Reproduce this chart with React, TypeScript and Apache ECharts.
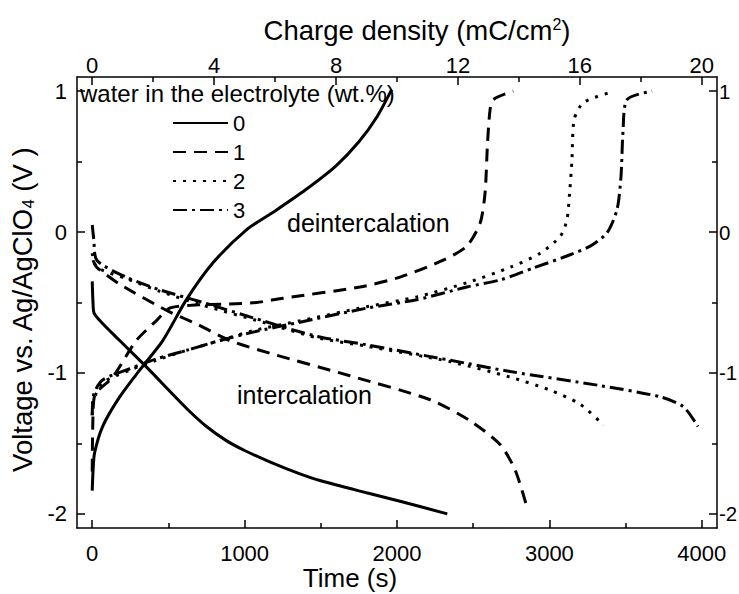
import React, { useEffect, useRef } from "react";
import * as echarts from "echarts";

// ---- data (time s, voltage V) ----
const c0Intercalation: number[][] = [
  [0, -0.35], [5, -0.5], [12, -0.575], [60, -0.64], [180, -0.77], [355, -0.957], [618, -1.25],
  [750, -1.38], [880, -1.48], [1000, -1.55], [1165, -1.63], [1350, -1.71], [1500, -1.765],
  [1800, -1.85], [2020, -1.91], [2330, -2.0],
];
const c0Deintercalation: number[][] = [
  [0, -1.835], [5, -1.7], [15, -1.57], [68, -1.38], [180, -1.17], [311, -0.98], [463, -0.77],
  [618, -0.48], [791, -0.22], [1012, 0.016], [1200, 0.15], [1400, 0.3], [1600, 0.47],
  [1750, 0.64], [1870, 0.82], [1965, 1.01],
];
const c1Intercalation: number[][] = [
  [5, -0.2], [30, -0.25], [180, -0.37], [486, -0.555], [700, -0.66], [902, -0.77], [1165, -0.86],
  [1691, -1.02], [2218, -1.19], [2481, -1.34], [2678, -1.51], [2776, -1.69], [2855, -1.96],
];
const c1Deintercalation: number[][] = [
  [0, -1.7], [5, -1.3], [20, -1.15], [134, -1.03], [289, -0.77], [420, -0.63], [508, -0.54],
  [650, -0.52], [900, -0.51], [1078, -0.5], [1251, -0.47], [1757, -0.39], [2020, -0.32],
  [2303, -0.2], [2458, -0.1], [2546, 0.065], [2578, 0.28], [2594, 0.63], [2611, 0.87],
  [2632, 0.94], [2763, 1.0],
];
const c2Intercalation: number[][] = [
  [0, -0.15], [30, -0.25], [223, -0.33], [442, -0.42], [727, -0.52], [1120, -0.64], [1474, -0.75],
  [1800, -0.81], [2350, -0.92], [2744, -1.03], [3000, -1.12], [3200, -1.22], [3355, -1.37],
];
const c2Deintercalation: number[][] = [
  [0, -1.3], [10, -1.19], [68, -1.07], [246, -0.98], [420, -0.91], [618, -0.84], [837, -0.77],
  [1055, -0.7], [1363, -0.63], [1801, -0.53], [2130, -0.46], [2458, -0.36], [2743, -0.25],
  [2940, -0.15], [3072, -0.03], [3115, 0.087], [3133, 0.28], [3148, 0.51], [3163, 0.8],
  [3225, 0.92], [3400, 0.99],
];
const c3Intercalation: number[][] = [
  [0, 0.05], [10, -0.05], [30, -0.2], [223, -0.32], [442, -0.41], [727, -0.5], [1120, -0.63],
  [1474, -0.74], [1800, -0.8], [2350, -0.91], [2744, -0.99], [3335, -1.09], [3730, -1.17],
  [3880, -1.24], [3975, -1.38],
];
const c3Deintercalation: number[][] = [
  [0, -1.3], [10, -1.15], [68, -1.05], [246, -0.97], [420, -0.9], [618, -0.84], [837, -0.77],
  [1055, -0.71], [1363, -0.64], [1801, -0.54], [2130, -0.48], [2458, -0.39], [2677, -0.34],
  [2895, -0.255], [3115, -0.17], [3268, -0.1], [3378, -0.006], [3444, 0.16], [3470, 0.395],
  [3483, 0.71], [3510, 0.94], [3674, 1.0],
];

const legendNames = ["0", "1", "2", "3"];
const timeTicks = [0, 1000, 2000, 3000, 4000];
const timeMinorTicks = [500, 1500, 2500, 3500];
const chargeTicks = [0, 4, 8, 12, 16, 20];
const chargeMinorTicks = [2, 6, 10, 14, 18];
const voltTicks = [-2, -1, 0, 1];
const voltMinorTicks = [-1.5, -0.5, 0.5];

const FONT = "Liberation Sans, Arial, sans-serif";

export default function App() {
  const ref = useRef<HTMLDivElement>(null);
  useEffect(() => {
    if (!ref.current) return;
    const chart = echarts.init(ref.current, undefined, { renderer: "svg" });
    const axisLineStyle = { color: "#000", width: 1.5 };
    const tickStyle = { color: "#000", width: 1.5 };
    const labelBase = {
      color: "#000",
      fontSize: 22,
      fontFamily: FONT,
      formatter: (v: number) => String(v),
    };

    const mainAxis = (opts: any) => ({
      type: "value",
      splitLine: { show: false },
      axisLine: { show: true, onZero: false, lineStyle: axisLineStyle },
      ...opts,
    });
    const minorAxis = (opts: any, ticks: number[]) => ({
      type: "value",
      splitLine: { show: false },
      axisLine: { show: false, onZero: false },
      axisLabel: { show: false },
      axisTick: { show: true, inside: true, length: 5, customValues: ticks, lineStyle: tickStyle },
      ...opts,
    });

    const styles: any[] = [
      { type: "solid" },
      { type: [13, 8] },
      { type: [3, 7] },
      { type: [14, 5, 3, 5] },
    ];
    const branches = [
      [c0Intercalation, c0Deintercalation],
      [c1Intercalation, c1Deintercalation],
      [c2Intercalation, c2Deintercalation],
      [c3Intercalation, c3Deintercalation],
    ];
    const series: any[] = [];
    branches.forEach((pair, i) => {
      pair.forEach((d) => {
        series.push({
          type: "line",
          name: legendNames[i],
          data: d,
          xAxisIndex: 0,
          yAxisIndex: 0,
          showSymbol: false,
          symbol: "none",
          smooth: 0.25,
          lineStyle: { color: "#000", width: 3, cap: "butt", ...styles[i] },
          itemStyle: { color: "#000", opacity: 0 },
        });
      });
    });

    chart.setOption({
      animation: false,
      backgroundColor: "#fff",
      grid: {
        left: 77,
        right: 22,
        top: 77,
        bottom: 66,
        containLabel: false,
        outerBoundsMode: "none",
      },
      legend: {
        data: legendNames,
        orient: "vertical",
        left: 172,
        top: 112,
        padding: 0,
        itemWidth: 55,
        itemHeight: 14,
        itemGap: 7,
        itemStyle: { opacity: 0 },
        textStyle: { color: "#000", fontSize: 22, fontFamily: FONT },
        selectedMode: false,
      },
      xAxis: [
        mainAxis({
          position: "bottom",
          min: -100,
          max: 4100,
          axisTick: { show: true, inside: true, length: 8, customValues: timeTicks, lineStyle: tickStyle },
          axisLabel: { ...labelBase, margin: 14, customValues: timeTicks },
          name: "Time (s)",
          nameLocation: "middle",
          nameMoveOverlap: false,
          nameGap: 36,
          nameTextStyle: {
            color: "#000",
            fontSize: 26,
            lineHeight: 27,
            fontFamily: FONT,
            padding: [0, 94, 0, 0],
          },
        }),
        minorAxis({ position: "bottom", min: -100, max: 4100 }, timeMinorTicks),
        mainAxis({
          position: "top",
          min: -0.5,
          max: 20.5,
          axisTick: { show: true, inside: true, length: 8, customValues: chargeTicks, lineStyle: tickStyle },
          axisLabel: { ...labelBase, margin: 1, customValues: chargeTicks },
          name: "Charge density (mC/cm{sup|2})",
          nameLocation: "middle",
          nameGap: 33,
          nameTextStyle: {
            color: "#000",
            fontSize: 27.5,
            fontFamily: FONT,
            padding: [0, 0, 0, 40],
            rich: { sup: { fontSize: 16, fontFamily: FONT, color: "#000", verticalAlign: "top", lineHeight: 27 } },
          },
        }),
        minorAxis({ position: "top", min: -0.5, max: 20.5 }, chargeMinorTicks),
      ],
      yAxis: [
        mainAxis({
          position: "left",
          min: -2.1,
          max: 1.1,
          axisTick: { show: true, inside: true, length: 8, customValues: voltTicks, lineStyle: tickStyle },
          axisLabel: { ...labelBase, margin: 10, customValues: voltTicks },
          name: "Voltage vs. Ag/AgClO{sub|4} (V )",
          nameLocation: "middle",
          nameRotate: 90,
          nameGap: 37,
          nameTextStyle: {
            color: "#000",
            fontSize: 27.5,
            fontFamily: FONT,
            padding: [0, 15, 0, 0],
            rich: { sub: { fontSize: 16, fontFamily: FONT, color: "#000", verticalAlign: "bottom", lineHeight: 27 } },
          },
        }),
        minorAxis({ position: "left", min: -2.1, max: 1.1 }, voltMinorTicks),
        mainAxis({
          position: "right",
          min: -2.1,
          max: 1.1,
          axisTick: { show: true, inside: true, length: 8, customValues: voltTicks, lineStyle: tickStyle },
          axisLabel: { ...labelBase, fontSize: 20.5, margin: 2, customValues: voltTicks },
        }),
        minorAxis({ position: "right", min: -2.1, max: 1.1 }, voltMinorTicks),
      ],
      graphic: [
        {
          type: "text",
          left: 80,
          top: 81,
          style: { text: "water in the electrolyte (wt.%)", fontSize: 24, fontFamily: FONT, fill: "#000" },
        },
        {
          type: "text",
          left: 287,
          top: 210,
          style: { text: "deintercalation", fontSize: 25, fontFamily: FONT, fill: "#000" },
        },
        {
          type: "text",
          left: 237,
          top: 382,
          style: { text: "intercalation", fontSize: 25, fontFamily: FONT, fill: "#000" },
        },
      ],
      series,
    });
    return () => chart.dispose();
  }, []);
  return (
    <div
      ref={ref}
      style={{ position: "fixed", left: 0, top: 0, width: 739, height: 594, background: "#fff" }}
    />
  );
}
